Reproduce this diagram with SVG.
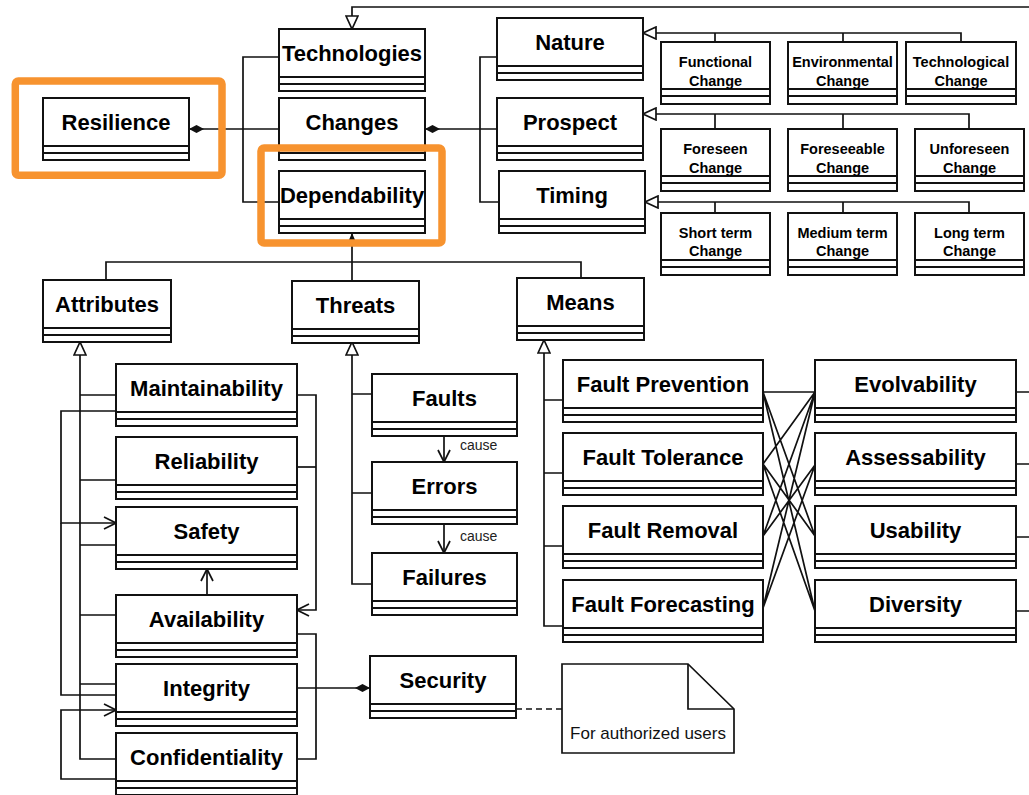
<svg xmlns="http://www.w3.org/2000/svg" width="1029" height="795" viewBox="0 0 1029 795">
<style>
.node rect{fill:#fff;stroke:#111;stroke-width:2}
.node path{fill:none;stroke:#111;stroke-width:2}
.node text{font-family:"Liberation Sans",Arial,sans-serif;font-weight:bold;font-size:22px;text-anchor:middle;dominant-baseline:central;fill:#000}
.node text.s{font-size:14.5px}
.conn path{fill:none;stroke:#111;stroke-width:1.7}
.lbl{font-family:"Liberation Sans",Arial,sans-serif;font-size:14px;fill:#222;dominant-baseline:central}
.hl{fill:none;stroke:#F7932F;stroke-width:7.5}
</style>
<defs>
<marker id="gen" viewBox="0 0 15 14" refX="14" refY="7" markerWidth="15" markerHeight="14" orient="auto" markerUnits="userSpaceOnUse"><path d="M1,1 L14,7 L1,13 Z" fill="#fff" stroke="#111" stroke-width="1.7"/></marker>
<marker id="open" viewBox="0 0 14 14" refX="13" refY="7" markerWidth="14" markerHeight="14" orient="auto" markerUnits="userSpaceOnUse"><path d="M1,1 L13,7 L1,13" fill="none" stroke="#111" stroke-width="1.7"/></marker>
<marker id="dia" viewBox="0 0 16 10" refX="15.5" refY="5" markerWidth="16" markerHeight="10" orient="auto" markerUnits="userSpaceOnUse"><path d="M0.5,5 L8,1 L15.5,5 L8,9 Z" fill="#111"/></marker>
<marker id="tri" viewBox="0 0 8 8" refX="8" refY="4" markerWidth="8" markerHeight="8" orient="auto" markerUnits="userSpaceOnUse"><path d="M0,0.5 L8,4 L0,7.5 Z" fill="#111"/></marker>
</defs>

<g id="connectors" class="conn">
<path d="M1029,7 H352 V29" marker-end="url(#gen)"/>
<path d="M279,57 H243 V202 H279"/>
<path d="M279,129 H189" marker-end="url(#dia)"/>
<path d="M497,57 H480 V202 H499"/>
<path d="M497,129 H425" marker-end="url(#dia)"/>
<path d="M961,42 V33 H643" marker-end="url(#gen)"/>
<path d="M715,42 V33 M843,42 V33"/>
<path d="M969,129 V114 H643" marker-end="url(#gen)"/>
<path d="M715,129 V114 M843,129 V114"/>
<path d="M969,213 V202 H645" marker-end="url(#gen)"/>
<path d="M715,213 V202 M843,213 V202"/>
<path d="M106,280 V262 H581 V278"/>
<path d="M352,281 V233" marker-end="url(#tri)"/>
<path d="M116,759 H80 V342" marker-end="url(#gen)"/>
<path d="M80,395 H116 M80,480 H116 M80,545 H116 M80,615 H116 M80,684 H116"/>
<path d="M116,411 H61 V523 H116" marker-end="url(#open)"/>
<path d="M116,695 H61 V523"/>
<path d="M116,779 H61 V710 H116" marker-end="url(#open)"/>
<path d="M297,395 H316 V610 H297" marker-end="url(#open)"/>
<path d="M297,467 H316"/>
<path d="M207,595 V569" marker-end="url(#open)"/>
<path d="M297,634 H316 V759 H297"/>
<path d="M297,688 H370" marker-end="url(#dia)"/>
<path d="M372,584 H352 V342" marker-end="url(#gen)"/>
<path d="M352,394 H372 M352,493 H372"/>
<path d="M444,437 V462" marker-end="url(#open)"/>
<path d="M444,524 V553" marker-end="url(#open)"/>
<path d="M563,626 H544 V340" marker-end="url(#gen)"/>
<path d="M544,400 H563 M544,473 H563 M544,546 H563"/>
<path d="M763,392 L815,392 M763,392 L815,536 M763,392 L815,611 M763,464 L815,392 M763,464 L815,536 M763,464 L815,611 M763,536 L815,392 M763,536 L815,465 M763,608 L815,392 M763,608 L815,465"/>
<path d="M1016,392 H1029 M1016,464 H1029 M1016,537 H1029 M1016,611 H1029"/>
<path d="M516,709 H562" stroke-dasharray="6,4"/>
</g>
<text class="lbl" x="460" y="445">cause</text>
<text class="lbl" x="460" y="536">cause</text>

<g id="technologies" class="node"><rect x="279" y="29" width="146" height="62"/><path d="M279,77 H425 M279,84 H425"/><text x="352" y="53">Technologies</text></g>
<g id="changes" class="node"><rect x="279" y="98" width="146" height="62"/><path d="M279,146 H425 M279,153 H425"/><text x="352" y="122">Changes</text></g>
<g id="dependability" class="node"><rect x="279" y="171" width="146" height="62"/><path d="M279,219 H425 M279,226 H425"/><text x="352" y="195">Dependability</text></g>
<g id="resilience" class="node"><rect x="43" y="98" width="146" height="62"/><path d="M43,146 H189 M43,153 H189"/><text x="116" y="122">Resilience</text></g>
<g id="nature" class="node"><rect x="497" y="18" width="146" height="62"/><path d="M497,66 H643 M497,73 H643"/><text x="570" y="42">Nature</text></g>
<g id="prospect" class="node"><rect x="497" y="98" width="146" height="62"/><path d="M497,146 H643 M497,153 H643"/><text x="570" y="122">Prospect</text></g>
<g id="timing" class="node"><rect x="499" y="171" width="146" height="62"/><path d="M499,219 H645 M499,226 H645"/><text x="572" y="195">Timing</text></g>

<g id="functional" class="node"><rect x="661" y="42" width="109" height="62"/><path d="M661,89 H770 M661,96 H770"/><text class="s" x="715.5" y="62">Functional</text><text class="s" x="715.5" y="81">Change</text></g>
<g id="environmental" class="node"><rect x="788" y="42" width="109" height="62"/><path d="M788,89 H897 M788,96 H897"/><text class="s" x="842.5" y="62">Environmental</text><text class="s" x="842.5" y="81">Change</text></g>
<g id="technological" class="node"><rect x="906" y="42" width="110" height="62"/><path d="M906,89 H1016 M906,96 H1016"/><text class="s" x="961" y="62">Technological</text><text class="s" x="961" y="81">Change</text></g>
<g id="foreseen" class="node"><rect x="661" y="129" width="109" height="62"/><path d="M661,176 H770 M661,183 H770"/><text class="s" x="715.5" y="149">Foreseen</text><text class="s" x="715.5" y="168">Change</text></g>
<g id="foreseeable" class="node"><rect x="788" y="129" width="109" height="62"/><path d="M788,176 H897 M788,183 H897"/><text class="s" x="842.5" y="149">Foreseeable</text><text class="s" x="842.5" y="168">Change</text></g>
<g id="unforeseen" class="node"><rect x="915" y="129" width="109" height="62"/><path d="M915,176 H1024 M915,183 H1024"/><text class="s" x="969.5" y="149">Unforeseen</text><text class="s" x="969.5" y="168">Change</text></g>
<g id="shortterm" class="node"><rect x="661" y="213" width="109" height="62"/><path d="M661,260 H770 M661,267 H770"/><text class="s" x="715.5" y="233">Short term</text><text class="s" x="715.5" y="251">Change</text></g>
<g id="mediumterm" class="node"><rect x="788" y="213" width="109" height="62"/><path d="M788,260 H897 M788,267 H897"/><text class="s" x="842.5" y="233">Medium term</text><text class="s" x="842.5" y="251">Change</text></g>
<g id="longterm" class="node"><rect x="915" y="213" width="109" height="62"/><path d="M915,260 H1024 M915,267 H1024"/><text class="s" x="969.5" y="233">Long term</text><text class="s" x="969.5" y="251">Change</text></g>

<g id="attributes" class="node"><rect x="43" y="280" width="128" height="62"/><path d="M43,328 H171 M43,335 H171"/><text x="107" y="304">Attributes</text></g>
<g id="threats" class="node"><rect x="292" y="281" width="127" height="62"/><path d="M292,329 H419 M292,336 H419"/><text x="355.5" y="305">Threats</text></g>
<g id="means" class="node"><rect x="517" y="278" width="127" height="62"/><path d="M517,326 H644 M517,333 H644"/><text x="580.5" y="302">Means</text></g>

<g id="maintainability" class="node"><rect x="116" y="364" width="181" height="62"/><path d="M116,412 H297 M116,419 H297"/><text x="206.5" y="388">Maintainability</text></g>
<g id="reliability" class="node"><rect x="116" y="437" width="181" height="62"/><path d="M116,485 H297 M116,492 H297"/><text x="206.5" y="461">Reliability</text></g>
<g id="safety" class="node"><rect x="116" y="507" width="181" height="62"/><path d="M116,555 H297 M116,562 H297"/><text x="206.5" y="531">Safety</text></g>
<g id="availability" class="node"><rect x="116" y="595" width="181" height="62"/><path d="M116,643 H297 M116,650 H297"/><text x="206.5" y="619">Availability</text></g>
<g id="integrity" class="node"><rect x="116" y="664" width="181" height="62"/><path d="M116,712 H297 M116,719 H297"/><text x="206.5" y="688">Integrity</text></g>
<g id="confidentiality" class="node"><rect x="116" y="733" width="181" height="62"/><path d="M116,781 H297 M116,788 H297"/><text x="206.5" y="757">Confidentiality</text></g>

<g id="faults" class="node"><rect x="372" y="374" width="145" height="62"/><path d="M372,422 H517 M372,429 H517"/><text x="444.5" y="398">Faults</text></g>
<g id="errors" class="node"><rect x="372" y="462" width="145" height="62"/><path d="M372,510 H517 M372,517 H517"/><text x="444.5" y="486">Errors</text></g>
<g id="failures" class="node"><rect x="372" y="553" width="145" height="62"/><path d="M372,601 H517 M372,608 H517"/><text x="444.5" y="577">Failures</text></g>

<g id="faultprevention" class="node"><rect x="563" y="360" width="200" height="62"/><path d="M563,408 H763 M563,415 H763"/><text x="663" y="384">Fault Prevention</text></g>
<g id="faulttolerance" class="node"><rect x="563" y="433" width="200" height="62"/><path d="M563,481 H763 M563,488 H763"/><text x="663" y="457">Fault Tolerance</text></g>
<g id="faultremoval" class="node"><rect x="563" y="506" width="200" height="62"/><path d="M563,554 H763 M563,561 H763"/><text x="663" y="530">Fault Removal</text></g>
<g id="faultforecasting" class="node"><rect x="563" y="580" width="200" height="62"/><path d="M563,628 H763 M563,635 H763"/><text x="663" y="604">Fault Forecasting</text></g>

<g id="evolvability" class="node"><rect x="815" y="360" width="201" height="62"/><path d="M815,408 H1016 M815,415 H1016"/><text x="915.5" y="384">Evolvability</text></g>
<g id="assessability" class="node"><rect x="815" y="433" width="201" height="62"/><path d="M815,481 H1016 M815,488 H1016"/><text x="915.5" y="457">Assessability</text></g>
<g id="usability" class="node"><rect x="815" y="506" width="201" height="62"/><path d="M815,554 H1016 M815,561 H1016"/><text x="915.5" y="530">Usability</text></g>
<g id="diversity" class="node"><rect x="815" y="580" width="201" height="62"/><path d="M815,628 H1016 M815,635 H1016"/><text x="915.5" y="604">Diversity</text></g>

<g id="security" class="node"><rect x="370" y="656" width="146" height="62"/><path d="M370,704 H516 M370,711 H516"/><text x="443" y="680">Security</text></g>

<g id="note">
<path d="M562,664 H688 L734,709 V753 H562 Z" fill="#fff" stroke="#111" stroke-width="1.7"/>
<path d="M688,664 V709 H734" fill="none" stroke="#111" stroke-width="1.7"/>
<text x="648" y="733" font-family="'Liberation Sans',Arial,sans-serif" font-size="17" text-anchor="middle" dominant-baseline="central" fill="#111">For authorized users</text>
</g>

<g id="highlights">
<rect class="hl" x="15.3" y="81" width="206.7" height="94.3" rx="3"/>
<rect class="hl" x="261" y="148" width="181" height="95" rx="3"/>
</g>
</svg>
